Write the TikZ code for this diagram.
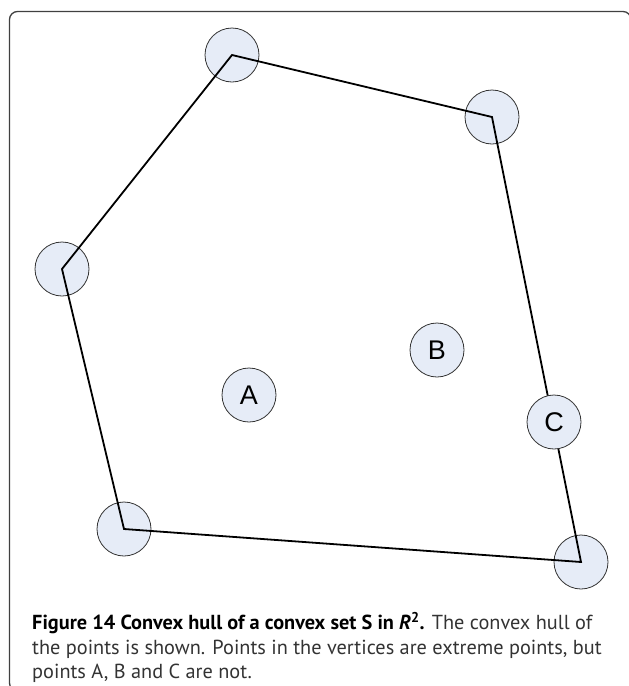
\documentclass[tikz,border=0pt]{standalone}
\usepackage{fontspec}
\setmainfont{PT Sans}
\newfontfamily\lblfont{Liberation Sans}
\definecolor{ptfill}{RGB}{230,236,247}
\begin{document}
\begin{tikzpicture}[x=1pt,y=-1pt,
    vertex/.style={circle,draw=black!80,line width=0.8pt,fill=ptfill,minimum size=54pt,inner sep=0pt},
    interior/.style={vertex,font=\lblfont\fontsize{27}{27}\selectfont}]
  \useasboundingbox (0,0) rectangle (629,686);
  \begin{scope}
    \clip (0,0) rectangle (629,686);
    \draw[black!75,line width=1.3pt,rounded corners=8pt] (9.5,11.5) rectangle (631,691);
  \end{scope}
  % extreme points
  \node[vertex] (v1) at (232,55) {};
  \node[vertex] (v2) at (492,117) {};
  \node[vertex] (v3) at (62,269) {};
  \node[vertex] (v4) at (124,529) {};
  \node[vertex] (v5) at (581,562) {};
  % hull
  \draw[line width=1.8pt] (v1.center) -- (v2.center) -- (v5.center) -- (v4.center) -- (v3.center) -- cycle;
  % points inside
  \node[interior] (a) at (249,395) {A};
  \node[interior] (b) at (437,350) {B};
  \node[interior] (c) at (554,422) {C};
  % caption
  \node[anchor=north west,align=left,inner sep=0pt,text=black!80,
        font=\fontsize{20.3}{24.5}\selectfont] (cap) at (32,612)
    {\textbf{\color{black}Figure 14 Convex hull of a convex set S in \textit{R}\textsuperscript{2}.} The convex hull of\\
     the points is shown. Points in the vertices are extreme points, but\\
     points A, B and C are not.};
\end{tikzpicture}
\end{document}
